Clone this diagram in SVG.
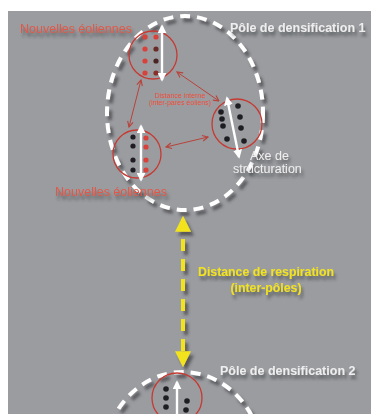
<svg xmlns="http://www.w3.org/2000/svg" width="371" height="414" viewBox="0 0 371 414">
<defs>
<filter id="sh" filterUnits="userSpaceOnUse" x="0" y="0" width="371" height="414"><feDropShadow dx="3" dy="4" stdDeviation="1.5" flood-color="#3a3b3f" flood-opacity="0.7"/></filter>
<filter id="tsh" filterUnits="userSpaceOnUse" x="0" y="0" width="371" height="414"><feDropShadow dx="2" dy="4" stdDeviation="1.6" flood-color="#2f3033" flood-opacity="0.6"/></filter>
<marker id="ra" viewBox="0 0 10 10" refX="9" refY="5" markerWidth="7" markerHeight="7" orient="auto-start-reverse" markerUnits="userSpaceOnUse"><path d="M1,1 L9,5 L1,9" fill="none" stroke="#b8433a" stroke-width="1.6"/></marker>
<marker id="wa" viewBox="0 0 10 10" refX="8" refY="5" markerWidth="9" markerHeight="9" orient="auto-start-reverse" markerUnits="userSpaceOnUse"><path d="M0,0 L10,5 L0,10 Z" fill="#ffffff"/></marker>
<marker id="ya" viewBox="0 0 10 10" refX="8" refY="5" markerWidth="16" markerHeight="16" orient="auto-start-reverse" markerUnits="userSpaceOnUse"><path d="M0,0 L10,5 L0,10 Z" fill="#f2e31e"/></marker>
</defs>
<style>
.pole{fill:none;stroke:#ffffff;stroke-width:4;stroke-dasharray:10 7}
.cir{fill:none;stroke:#c63a33;stroke-width:1.3}
.rl{stroke:#b8433a;stroke-width:1;fill:none}
.wl{stroke:#ffffff;stroke-width:2.4;fill:none}
.rd{fill:#d8423a}
.bk{fill:#1e1e22}
.lab{font-family:"Liberation Sans",Arial,sans-serif}
.red{fill:#e05848;font-size:12.5px}
.wt{fill:#eeeeee;font-size:12.5px}
.tiny{fill:#e8503c;font-size:7px}
.yel{fill:#f2e31e;font-size:12.3px;font-weight:bold}
</style>
<rect x="0" y="0" width="371" height="414" fill="#ffffff"/>
<rect x="8" y="11" width="363" height="403" fill="#9b9ca0"/>

<g id="pole1">
<ellipse class="pole" cx="185" cy="113" rx="78" ry="97" filter="url(#sh)"/>
<text class="lab wt" x="230" y="32" font-weight="bold" filter="url(#tsh)">Pôle de densification 1</text>
</g>

<g id="pole2">
<ellipse class="pole" cx="183" cy="462" rx="80" ry="90" filter="url(#sh)"/>
<text class="lab wt" x="220" y="375" font-weight="bold" filter="url(#tsh)">Pôle de densification 2</text>
</g>

<g id="cluster-top">
<circle class="cir" cx="153" cy="55" r="24"/>
<circle class="rd" cx="145" cy="37" r="2.6"/><circle class="rd" cx="145" cy="49" r="2.6"/><circle class="rd" cx="145" cy="61" r="2.6"/><circle class="rd" cx="145" cy="73" r="2.6"/>
<circle class="rd" cx="156" cy="37" r="2.6"/><circle fill="#6a2a28" cx="156" cy="49" r="2.6"/><circle fill="#4a2422" cx="156" cy="61" r="2.6"/><circle fill="#8a2e2a" cx="156" cy="73" r="2.6"/>
<line class="wl" x1="162" y1="26" x2="162" y2="80" marker-start="url(#wa)" marker-end="url(#wa)"/>
<text class="lab red" x="20" y="33" filter="url(#tsh)">Nouvelles éoliennes</text>
</g>

<g id="cluster-left">
<circle class="cir" cx="137" cy="154" r="24"/>
<circle class="bk" cx="133" cy="137" r="2.6"/><circle class="bk" cx="133" cy="146" r="2.6"/><circle class="bk" cx="133" cy="160" r="2.6"/><circle class="bk" cx="133" cy="170" r="2.6"/>
<circle class="rd" cx="146" cy="138" r="2.6"/><circle class="rd" cx="146" cy="147" r="2.6"/><circle class="rd" cx="146" cy="160" r="2.6"/><circle class="rd" cx="146" cy="170" r="2.6"/>
<line class="wl" x1="141" y1="126" x2="141" y2="180" marker-start="url(#wa)" marker-end="url(#wa)"/>
<text class="lab red" x="55" y="196" filter="url(#tsh)">Nouvelles éoliennes</text>
</g>

<g id="cluster-right">
<circle class="cir" cx="237" cy="124" r="25"/>
<circle class="bk" cx="221" cy="112" r="2.8"/><circle class="bk" cx="222" cy="119" r="2.8"/><circle class="bk" cx="223" cy="126" r="2.8"/><circle class="bk" cx="227" cy="139" r="2.8"/>
<circle class="bk" cx="238" cy="106" r="2.8"/><circle class="bk" cx="240" cy="117" r="2.8"/><circle class="bk" cx="241" cy="128" r="2.8"/><circle class="bk" cx="244" cy="141" r="2.8"/>
<line class="wl" x1="227" y1="98" x2="239" y2="157" marker-start="url(#wa)" marker-end="url(#wa)"/>
<text class="lab wt" filter="url(#tsh)"><tspan x="250" y="160">Axe de</tspan><tspan x="233" y="173">structuration</tspan></text>
</g>

<g id="cluster-pole2">
<circle class="cir" cx="177" cy="398" r="25"/>
<circle class="bk" cx="166" cy="389" r="2.8"/><circle class="bk" cx="166" cy="398" r="2.8"/><circle class="bk" cx="166" cy="407" r="2.8"/>
<circle class="bk" cx="187" cy="401" r="2.8"/><circle class="bk" cx="186" cy="410" r="2.8"/>
<line class="wl" x1="177" y1="382" x2="177" y2="420" marker-start="url(#wa)"/>
</g>

<g id="connectors">
<line class="rl" x1="141" y1="80" x2="129" y2="127" marker-start="url(#ra)" marker-end="url(#ra)"/>
<line class="rl" x1="177" y1="72" x2="219" y2="101" marker-start="url(#ra)" marker-end="url(#ra)"/>
<line class="rl" x1="166" y1="147" x2="208" y2="137" marker-start="url(#ra)" marker-end="url(#ra)"/>
<line x1="183" y1="219" x2="183" y2="364" stroke="#f2e31e" stroke-width="4" stroke-dasharray="12 8" marker-start="url(#ya)" marker-end="url(#ya)" filter="url(#sh)"/>
</g>

<g id="labels">
<text class="lab tiny" text-anchor="middle"><tspan x="180" y="98">Distance interne</tspan><tspan x="180" y="105">(inter-pares éoliens)</tspan></text>
<text class="lab yel" text-anchor="middle" filter="url(#tsh)"><tspan x="266" y="276">Distance de respiration</tspan><tspan x="266" y="292">(inter-pôles)</tspan></text>
</g>
</svg>
